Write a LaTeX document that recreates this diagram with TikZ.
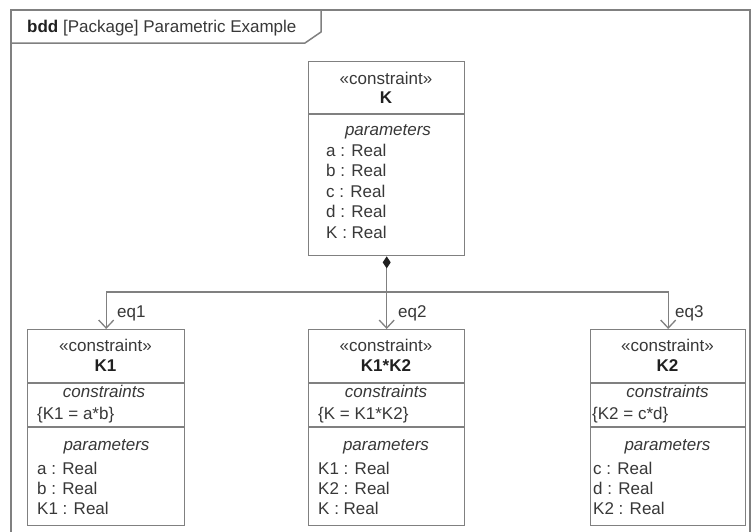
\documentclass[tikz,border=0pt]{standalone}
\usepackage{fontspec}
\setmainfont{Liberation Sans}
\usetikzlibrary{arrows.meta}
\definecolor{linegray}{HTML}{808080}
\definecolor{ink}{HTML}{383838}
\definecolor{inkdark}{HTML}{202020}

\tikzset{
  txt/.style={font=\fontsize{17}{20}\selectfont, text=ink, inner sep=0pt,
              text height=12pt, text depth=3.5pt},
  lbl/.style={txt, anchor=west},
  ctr/.style={txt, anchor=center},
  ttl/.style={txt, anchor=center, font=\fontsize{17}{20}\selectfont\bfseries, text=inkdark},
  hdr/.style={txt, anchor=center, font=\fontsize{17}{20}\selectfont\itshape},
  blockbox/.style={draw=linegray, line width=1.4pt, rectangle, inner sep=0pt,
                   anchor=north west},
  divider/.style={draw=linegray, line width=1.3pt},
  conn/.style={draw=linegray, line width=1.3pt},
  barb/.style={-{Straight Barb[length=8pt,width=15pt,line width=1.3pt]}},
  compose/.style={{Diamond[length=12pt,width=8pt,fill=inkdark,color=inkdark]}-{Straight Barb[length=8pt,width=15pt,line width=1.3pt]}}
}

\begin{document}
\begin{tikzpicture}[x=1pt,y=-1pt]
  \useasboundingbox (0,0) rectangle (751,531);
  \clip (0,0) rectangle (751,531);
  \fill[white] (0,0) rectangle (751,531);

  % diagram frame with its name tab
  \draw[draw=linegray, line width=1.5pt] (11,545) -- (11,10) -- (750,10) -- (750,545);
  \draw[draw=linegray, line width=1.5pt] (11,43) -- (305,43) -- (321,32) -- (321,10);
  \node[lbl] (title) at (27,28) {\textbf{\color{inkdark}bdd} [Package] Parametric Example};

  % constraint block K
  \node[blockbox, minimum width=156pt, minimum height=194pt] (K) at (308,61) {};
  \draw[divider] (308,114) -- (464,114);
  \node[ctr] (Kst) at (386,80) {«constraint»};
  \node[ttl] (Kname) at (386,99) {K};
  \node[hdr] (Kph) at (388,131) {parameters};
  \node[lbl] (Ka) at (326,152) {a : Real};
  \node[lbl] (Kb) at (326,172.5) {b : Real};
  \node[lbl] (Kc) at (326,193) {c : Real};
  \node[lbl] (Kd) at (326,213.5) {d : Real};
  \node[lbl] (KK) at (326,234) {K : Real};

  % constraint block K1
  \node[blockbox, minimum width=157pt, minimum height=196pt] (K1) at (27,329) {};
  \draw[divider] (27,383) -- (184,383);
  \draw[divider] (27,427) -- (184,427);
  \node[ctr] (K1st) at (105.5,347) {«constraint»};
  \node[ttl] (K1name) at (105.5,367) {K1};
  \node[hdr] (K1ch) at (104,393) {constraints};
  \node[lbl] (K1c) at (37,415) {\{K1 = a*b\}};
  \node[hdr] (K1ph) at (106.5,446) {parameters};
  \node[lbl] (K1a) at (37,470) {a : Real};
  \node[lbl] (K1b) at (37,490) {b : Real};
  \node[lbl] (K1K) at (37,510) {K1 : Real};

  % constraint block K1*K2
  \node[blockbox, minimum width=156pt, minimum height=196pt] (K12) at (308,329) {};
  \draw[divider] (308,383) -- (464,383);
  \draw[divider] (308,427) -- (464,427);
  \node[ctr] (K12st) at (386,347) {«constraint»};
  \node[ttl] (K12name) at (386,367) {K1*K2};
  \node[hdr] (K12ch) at (386,393) {constraints};
  \node[lbl] (K12c) at (318,415) {\{K = K1*K2\}};
  \node[hdr] (K12ph) at (386,446) {parameters};
  \node[lbl] (K12a) at (318,470) {K1 : Real};
  \node[lbl] (K12b) at (318,490) {K2 : Real};
  \node[lbl] (K12K) at (318,510) {K : Real};

  % constraint block K2
  \node[blockbox, minimum width=155pt, minimum height=196pt] (K2) at (590,329) {};
  \draw[divider] (590,383) -- (745,383);
  \draw[divider] (590,427) -- (745,427);
  \node[ctr] (K2st) at (667.5,347) {«constraint»};
  \node[ttl] (K2name) at (667.5,367) {K2};
  \node[hdr] (K2ch) at (667.5,393) {constraints};
  \node[lbl] (K2c) at (592,415) {\{K2 = c*d\}};
  \node[hdr] (K2ph) at (667.5,446) {parameters};
  \node[lbl] (K2a) at (593,470) {c : Real};
  \node[lbl] (K2b) at (593,490) {d : Real};
  \node[lbl] (K2K) at (593,510) {K2 : Real};

  % composition connectors
  \coordinate (hub) at (386,292);
  \draw[conn, compose] (K.south) -- (K12.north);
  \draw[conn, barb] (hub) -| (K1.north);
  \draw[conn, barb] (hub) -| (K2.north);

  % part names
  \node[lbl] (eq1) at (117,313) {eq1};
  \node[lbl] (eq2) at (398,313) {eq2};
  \node[lbl] (eq3) at (675,313) {eq3};
\end{tikzpicture}
\end{document}
